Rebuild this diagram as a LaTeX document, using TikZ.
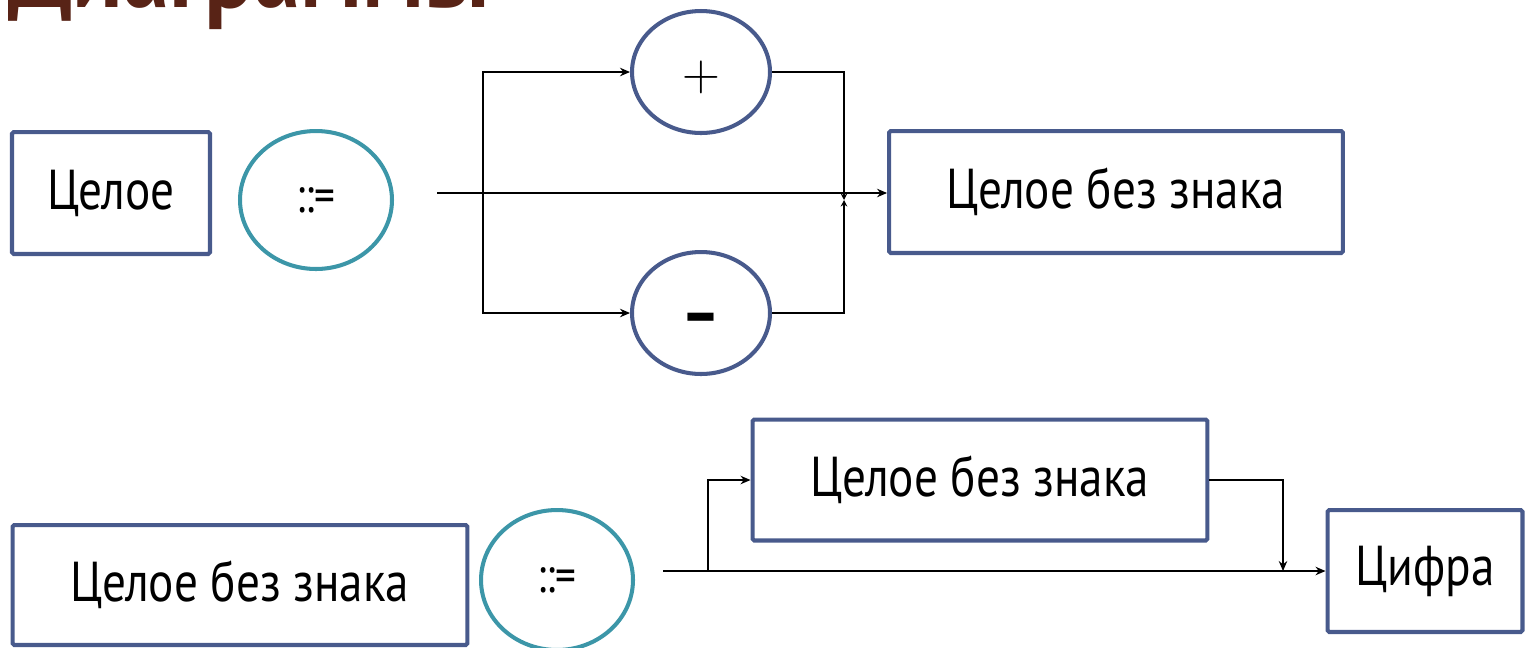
\documentclass[tikz,border=0pt]{standalone}
\usepackage{fontspec}
\setmainfont[FakeStretch = 0.84]{PT Sans}
\usetikzlibrary{shapes.geometric, arrows.meta}

\definecolor{ramka}{RGB}{72,90,140}
\definecolor{krug}{RGB}{60,150,168}
\definecolor{zagolovok}{RGB}{88,35,22}

\tikzset{
  poniatie/.style = {draw = ramka, line width = 2.3pt, rounded corners = 1pt,
    inner sep = 0pt, minimum height = 2.44cm, font = \fontsize{32}{36}\selectfont},
  opred/.style = {ellipse, draw = krug, line width = 2.3pt, inner sep = 0pt,
    minimum width = 3.04cm, minimum height = 2.76cm, font = \fontsize{28}{30}\selectfont},
  znak/.style = {ellipse, draw = ramka, line width = 2.3pt, inner sep = 0pt,
    minimum width = 2.76cm, minimum height = 2.44cm, font = \fontsize{30}{30}\selectfont},
  svyaz/.style = {line width = 0.75pt},
  strelka/.style = {svyaz, -{Stealth[length = 0.2cm, width = 0.17cm]}},
  strelochka/.style = {svyaz, -{Stealth[length = 0.13cm, width = 0.13cm]}}
}

\begin{document}
\begin{tikzpicture}[x = 0.02cm, y = -0.02cm]
  \useasboundingbox (0, 0) rectangle (1531, 647);
  \clip (0, 0) rectangle (1531, 647);

  % zagolovok (vidna tolko nizhnyaya chast)
  \node[anchor = base west, inner sep = 0pt, text = zagolovok,
    font = \fontsize{63}{63}\selectfont\bfseries] (titul) at (8, 7) {Диаграммы};

  % pervaya diagramma: celoe
  \node[poniatie, minimum width = 3.96cm] (celoe) at (111, 193) {Целое};
  \node[opred] (opred1) at (316, 200) {::=};
  \node[znak, font = \fontsize{36}{36}\selectfont] (plyus) at (701, 72) {\raisebox{-0.36cm}[0pt][0pt]{\scalebox{1.2}{$+$}}};
  \node[znak, font = \fontsize{40}{40}\selectfont] (minus) at (701, 313) {\raisebox{-0.48cm}[0pt][0pt]{\textbf{–}}};
  \node[poniatie, minimum width = 9.08cm] (bezznaka1) at (1116, 192) {Целое без знака};

  \coordinate (vhod1) at (437, 193);
  \coordinate (razv1) at (483, 193);
  \coordinate (sbor1) at (844, 200);

  \draw[strelka] (vhod1) -- (vhod1 -| bezznaka1.west);
  \draw[strelka] (razv1) |- (plyus.west);
  \draw[strelka] (razv1) |- (minus.west);
  \draw[strelochka] (plyus.east) -| (sbor1);
  \draw[strelochka] (minus.east) -| (sbor1);

  % vtoraya diagramma: celoe bez znaka
  \node[poniatie, minimum width = 9.1cm, minimum height = 2.4cm] (bezznaka2) at (240, 585) {Целое без знака};
  \node[opred, minimum height = 2.8cm] (opred2) at (557, 580) {::=};
  \node[poniatie, minimum width = 9.1cm, minimum height = 2.42cm] (bezznaka3) at (980, 480) {Целое без знака};
  \node[poniatie, minimum width = 3.9cm] (cifra) at (1425, 571) {Цифра};

  \coordinate (vhod2) at (663, 571);
  \coordinate (razv2) at (708, 571);
  \coordinate (sbor2) at (1283, 571);

  \draw[strelka] (vhod2) -- (cifra.west);
  \draw[strelka] (razv2) |- (bezznaka3.west);
  \draw[strelka] (bezznaka3.east) -| (sbor2);
\end{tikzpicture}
\end{document}
